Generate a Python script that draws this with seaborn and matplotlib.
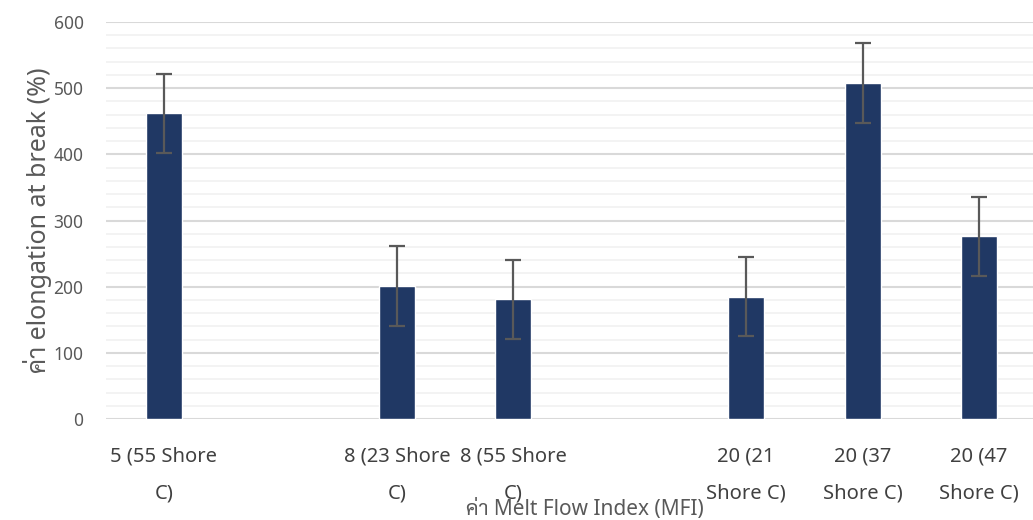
import matplotlib
matplotlib.use("Agg")
import matplotlib.pyplot as plt
from matplotlib.ticker import MultipleLocator
import seaborn as sns
import pandas as pd

# Melt flow index grades (slot position, label) and measured elongation
slot_labels = ["5 (55 Shore\nC)", "", "8 (23 Shore\nC)", "8 (55 Shore\nC)", "",
               "20 (21\nShore C)", "20 (37\nShore C)", "20 (47\nShore C)"]
positions = [0, 2, 3, 5, 6, 7]
elongation = [462, 201, 181, 185, 508, 276]
elongation_err = [60, 60, 60, 60, 60, 60]

df = pd.DataFrame({"pos": positions, "elong": elongation})

sns.set_theme(style="white")
# Latin text in Noto Sans, Thai characters fall back to Sarabun
plt.rcParams["font.family"] = ["Noto Sans", "Sarabun"]

fig = plt.figure(figsize=(10.33, 5.20), dpi=100)
ax = fig.add_axes([0.1024, 0.1942, 0.9017, 0.7635])

sns.barplot(data=df, x="pos", y="elong", native_scale=True, width=0.31,
            color="#203864", saturation=1, errorbar=None, ax=ax, zorder=3)
ax.errorbar(positions, elongation, yerr=elongation_err, fmt="none",
            ecolor="#595959", elinewidth=1.6, capsize=6, capthick=1.6, zorder=4)

ax.set_xlim(-0.5, 7.5)
ax.set_ylim(0, 600)
ax.yaxis.set_major_locator(MultipleLocator(100))
ax.yaxis.set_minor_locator(MultipleLocator(20))
ax.grid(which="major", axis="y", color="#d9d9d9", linewidth=1.5, zorder=0)
ax.grid(which="minor", axis="y", color="#f2f2f2", linewidth=1.3, zorder=0)
ax.grid(which="both", axis="x", visible=False)
ax.set_axisbelow(True)
for s in ax.spines.values():
    s.set_visible(False)

ax.set_xticks(range(len(slot_labels)))
ax.set_xticklabels(slot_labels, fontsize=14.5, color="#404040", linespacing=2.1)
ax.tick_params(axis="x", length=0, pad=20)
ax.tick_params(axis="y", which="both", length=0, pad=16, labelsize=12.5,
               labelcolor="#595959")

ax.set_xlabel("")
ax.set_ylabel("")
fig.text(585 / 1033, 1 - 510 / 520, "ค่า Melt Flow Index (MFI)", ha="center",
         va="center", fontsize=15, color="#595959")
fig.text(38 / 1033, 1 - 220 / 520, "ค่า elongation at break (%)", ha="center",
         va="center", rotation=90, fontsize=18, color="#595959")

fig.savefig("out.png", dpi=100)
